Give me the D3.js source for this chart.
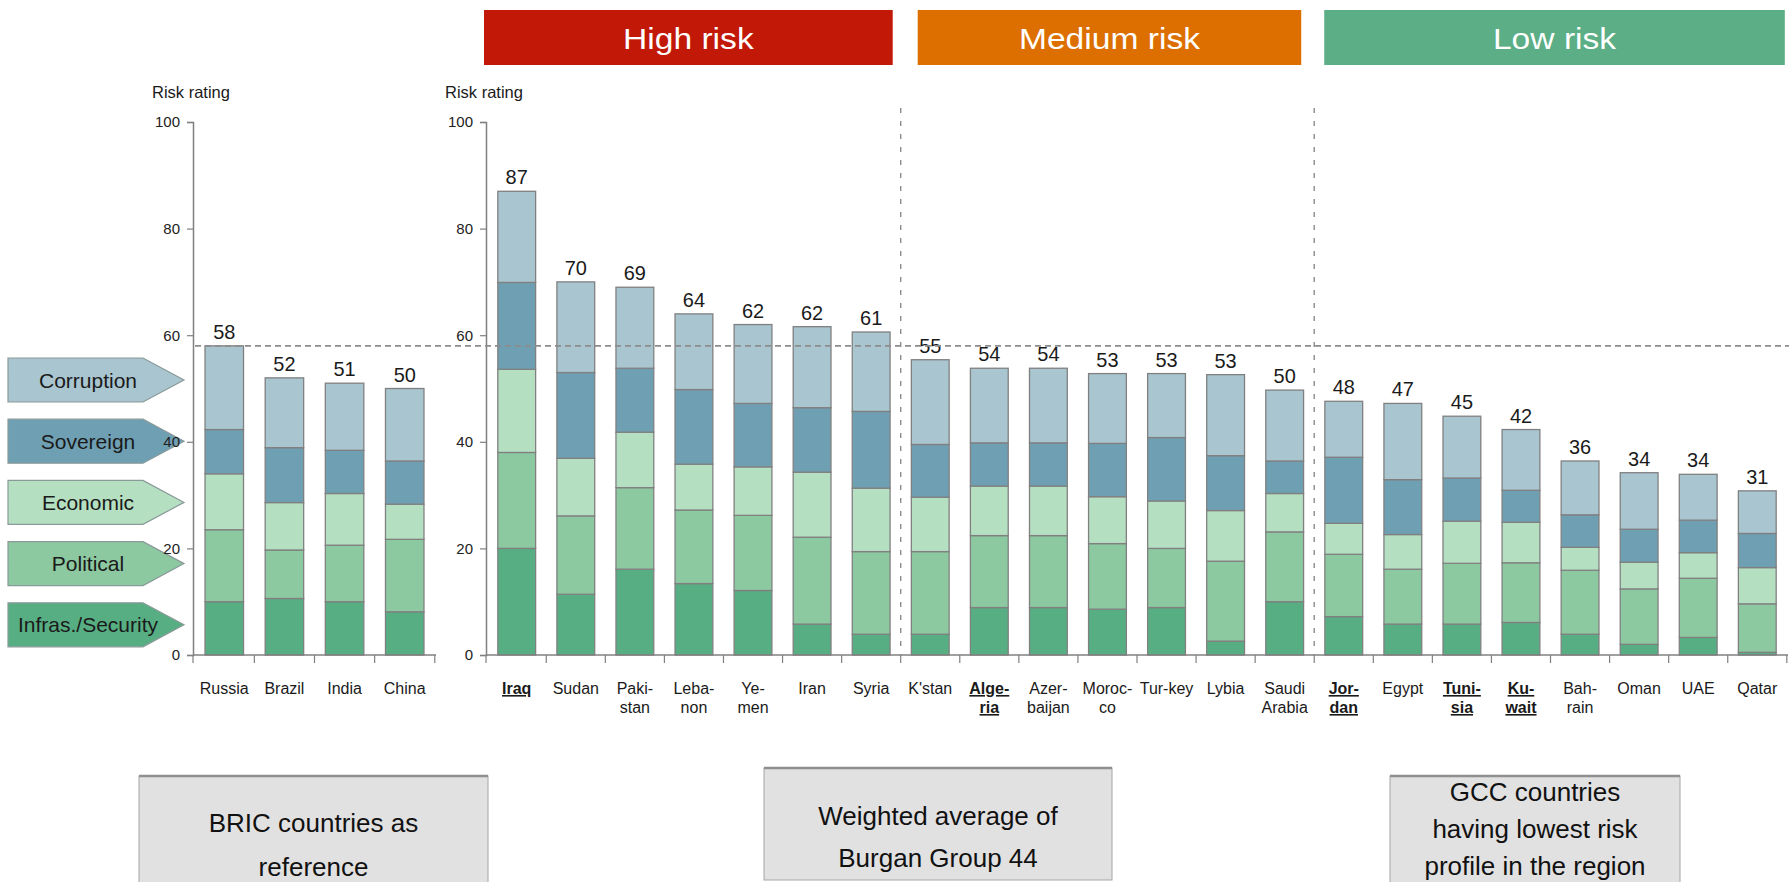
<!DOCTYPE html>
<html>
<head>
<meta charset="utf-8">
<script src="https://cdn.jsdelivr.net/npm/d3@7"></script>
<style>
  html, body { margin: 0; padding: 0; background: #fff; }
  svg { display: block; font-family: "Liberation Sans", Arial, sans-serif; }
</style>
</head>
<body>
<svg id="chart" width="1789" height="882"></svg>
<script>
// ---- Data -------------------------------------------------------------
// Risk components, stacked bottom to top
const components = ["Infras./Security", "Political", "Economic", "Sovereign", "Corruption"];

// BRIC reference countries
const bricCountries = ["Russia", "Brazil", "India", "China"];
const bricInfras     = [10.0, 10.6, 10.0, 8.1];
const bricPolitical  = [13.5, 9.1, 10.6, 13.6];
const bricEconomic   = [10.5, 8.9, 9.7, 6.6];
const bricSovereign  = [8.3, 10.3, 8.1, 8.1];
const bricCorruption = [15.7, 13.1, 12.6, 13.6];

// Burgan Group countries
const groupCountries = ["Iraq", "Sudan", "Pakistan", "Lebanon", "Yemen", "Iran", "Syria",
  "K'stan", "Algeria", "Azerbaijan", "Morocco", "Turkey", "Lybia", "Saudi Arabia",
  "Jordan", "Egypt", "Tunisia", "Kuwait", "Bahrain", "Oman", "UAE", "Qatar"];
const groupTickLabels = [["Iraq"], ["Sudan"], ["Paki-", "stan"], ["Leba-", "non"], ["Ye-", "men"], ["Iran"], ["Syria"],
  ["K'stan"], ["Alge-", "ria"], ["Azer-", "baijan"], ["Moroc-", "co"], ["Tur-key"], ["Lybia"], ["Saudi", "Arabia"],
  ["Jor-", "dan"], ["Egypt"], ["Tuni-", "sia"], ["Ku-", "wait"], ["Bah-", "rain"], ["Oman"], ["UAE"], ["Qatar"]];
const highlighted = ["Iraq", "Algeria", "Jordan", "Tunisia", "Kuwait"];

const groupInfras     = [20.0, 11.4, 16.1, 13.4, 12.1, 5.8, 3.9, 3.9, 8.9, 8.9, 8.6, 8.9, 2.6, 10.0, 7.2, 5.8, 5.8, 6.1, 3.9, 2.0, 3.3, 0.5];
const groupPolitical  = [18.0, 14.7, 15.3, 13.8, 14.1, 16.3, 15.5, 15.5, 13.5, 13.5, 12.3, 11.1, 15.0, 13.1, 11.7, 10.3, 11.4, 11.2, 12.0, 10.4, 11.1, 9.1];
const groupEconomic   = [15.6, 10.8, 10.4, 8.6, 9.1, 12.2, 11.9, 10.2, 9.3, 9.3, 8.8, 8.9, 9.5, 7.2, 5.8, 6.5, 7.9, 7.6, 4.3, 5.0, 4.8, 6.8];
const groupSovereign  = [16.3, 16.1, 12.0, 14.0, 11.9, 12.1, 14.4, 9.9, 8.1, 8.1, 10.0, 11.9, 10.3, 6.1, 12.4, 10.3, 8.1, 6.0, 6.1, 6.2, 6.1, 6.4];
const groupCorruption = [17.1, 17.0, 15.2, 14.2, 14.8, 15.2, 14.9, 15.9, 14.0, 14.0, 13.1, 12.0, 15.2, 13.3, 10.5, 14.3, 11.6, 11.4, 10.1, 10.6, 8.6, 8.0];

// Risk tiers: first country index of each tier
const tierNames = ["High risk", "Medium risk", "Low risk"];
const tierStart = [0, 7, 14];
const tierColors = ["#c21807", "#dc6f00", "#5bae85"];

const benchmark = 58;          // BRIC reference level
const yTicks = [0, 20, 40, 60, 80, 100];

const noteTexts = [
  ["BRIC countries as", "reference"],
  ["Weighted average of", "Burgan Group 44"],
  ["GCC countries", "having lowest risk", "profile in the region"]
];

// ---- Styling ------------------------------------------------------------
const compColors = {
  "Infras./Security": "#57ae83",
  "Political": "#8cc8a0",
  "Economic": "#b5dfc1",
  "Sovereign": "#6f9fb3",
  "Corruption": "#a8c5d0"
};
const strokeGray = "#808080";

const svg = d3.select("#chart");

// text placed at (x, y) with an optional horizontal stretch
function stretchedText(parent, x, y, str, size, sx, fill, anchor) {
  return parent.append("text")
    .attr("transform", `translate(${x},${y}) scale(${sx},1)`)
    .attr("text-anchor", anchor || "middle")
    .attr("font-size", size)
    .attr("fill", fill)
    .text(str);
}

function buildRows(names, series) {
  return names.map((n, i) => {
    const row = { name: n };
    components.forEach((c, k) => row[c] = series[k][i]);
    row.total = components.reduce((s, c) => s + row[c], 0);
    return row;
  });
}
const bricRows = buildRows(bricCountries, [bricInfras, bricPolitical, bricEconomic, bricSovereign, bricCorruption]);
const groupRows = buildRows(groupCountries, [groupInfras, groupPolitical, groupEconomic, groupSovereign, groupCorruption]);

const y = d3.scaleLinear().domain([0, 100]).range([655, 122]);
const stack = d3.stack().keys(components);

// ---- Legend arrows (drawn beneath the left axis) ---------------------------
const legendOrder = components.slice().reverse();
const legendG = svg.append("g");
legendOrder.forEach((c, i) => {
  const cy = 380 + i * 61.2, h = 44, x0 = 8, xb = 143, xt = 184;
  legendG.append("path")
    .attr("d", `M${x0},${cy - h / 2}H${xb}L${xt},${cy}L${xb},${cy + h / 2}H${x0}Z`)
    .attr("fill", compColors[c])
    .attr("stroke", "#8a9a9a")
    .attr("stroke-width", 1.2);
  legendG.append("text")
    .attr("x", 88).attr("y", cy + 7.5)
    .attr("text-anchor", "middle")
    .attr("font-size", 21)
    .attr("fill", "#1a1a1a")
    .text(c);
});

// ---- Panel drawing --------------------------------------------------------
function drawPanel(rows, x0, x1, tickLabels) {
  const x = d3.scaleBand().domain(rows.map(d => d.name))
    .range([x0, x1]).paddingInner(0.36).paddingOuter(0.2);
  const g = svg.append("g");
  const series = stack(rows);

  g.selectAll("g.layer").data(series).join("g")
    .attr("fill", s => compColors[s.key])
    .selectAll("rect").data(s => s).join("rect")
    .attr("x", d => x(d.data.name))
    .attr("width", x.bandwidth())
    .attr("y", d => y(d[1]))
    .attr("height", d => y(d[0]) - y(d[1]))
    .attr("stroke", strokeGray)
    .attr("stroke-width", 1.3);

  // total labels
  rows.forEach(d => {
    stretchedText(g, x(d.name) + x.bandwidth() / 2, y(d.total) - 7,
      Math.round(d.total), 21, 0.95, "#1a1a1a");
  });

  // y axis
  const yAxis = d3.axisLeft(y).tickValues(yTicks).tickSize(6).tickPadding(7);
  const ya = g.append("g").attr("transform", `translate(${x0},0)`).call(yAxis);
  ya.select(".domain").attr("stroke", strokeGray).attr("stroke-width", 1.5);
  ya.selectAll(".tick line").attr("stroke", strokeGray).attr("stroke-width", 1.2);
  ya.selectAll(".tick text").attr("font-size", 15).attr("fill", "#222")
    .attr("font-family", "Liberation Sans, Arial, sans-serif");

  g.append("text").attr("x", x0 - 41).attr("y", 98)
    .attr("font-size", 16.5).attr("fill", "#1a1a1a").text("Risk rating");

  // x axis with ticks at band boundaries
  const step = x.step(), gap = step - x.bandwidth();
  const bounds = [x0].concat(rows.map(d => x(d.name) + x.bandwidth() + gap / 2));
  g.append("line").attr("x1", x0).attr("x2", x1).attr("y1", y(0)).attr("y2", y(0))
    .attr("stroke", strokeGray).attr("stroke-width", 1.5);
  g.selectAll("line.xt").data(bounds).join("line")
    .attr("x1", d => d).attr("x2", d => d)
    .attr("y1", y(0)).attr("y2", y(0) + 8)
    .attr("stroke", strokeGray).attr("stroke-width", 1.2);

  // category labels
  rows.forEach((d, i) => {
    const lines = tickLabels[i];
    const hl = highlighted.includes(d.name);
    lines.forEach((ln, j) => {
      g.append("text")
        .attr("x", x(d.name) + x.bandwidth() / 2)
        .attr("y", 694 + j * 19)
        .attr("text-anchor", "middle")
        .attr("font-size", 16)
        .attr("font-weight", hl ? "bold" : "normal")
        .attr("text-decoration", hl ? "underline" : "none")
        .attr("fill", "#1a1a1a")
        .text(ln);
    });
  });
  return { x, bounds };
}

const left = drawPanel(bricRows, 193, 436, bricCountries.map(n => [n]));
const main = drawPanel(groupRows, 486, 1788, groupTickLabels);

// ---- Reference lines --------------------------------------------------------
svg.append("line")
  .attr("x1", 195).attr("x2", 1789)
  .attr("y1", y(benchmark)).attr("y2", y(benchmark))
  .attr("stroke", "#8c8c8c").attr("stroke-width", 1.6)
  .attr("stroke-dasharray", "6,4");

const sepX = tierStart.slice(1).map(i => main.bounds[i]);
svg.selectAll("line.sep").data(sepX).join("line")
  .attr("x1", d => d).attr("x2", d => d)
  .attr("y1", 108).attr("y2", y(0))
  .attr("stroke", "#8c8c8c").attr("stroke-width", 1.4)
  .attr("stroke-dasharray", "5,8");

// ---- Tier headers -------------------------------------------------------------
const tierEdges = [main.bounds[0], ...sepX, main.bounds[main.bounds.length - 1]];
const tierBoxes = [
  [tierEdges[0] - 2, tierEdges[1] - 8],
  [tierEdges[1] + 17, tierEdges[2] - 13],
  [tierEdges[2] + 10, tierEdges[3] - 2]
];
tierNames.forEach((t, i) => {
  const [a, b] = tierBoxes[i];
  svg.append("rect").attr("x", a).attr("y", 10).attr("width", b - a).attr("height", 55)
    .attr("fill", tierColors[i]);
  stretchedText(svg, (a + b) / 2, 49, t, 30, 1.12, "#fff");
});

// ---- Notes at the bottom ----------------------------------------------------------
const noteBoxes = [
  { x: 139, y: 776, w: 349, h: 110, base: 832, lead: 44 },
  { x: 764, y: 768, w: 348, h: 112, base: 825, lead: 42 },
  { x: 1390, y: 776, w: 290, h: 110, base: 801, lead: 37 }
];
noteBoxes.forEach((b, i) => {
  svg.append("rect").attr("x", b.x).attr("y", b.y).attr("width", b.w).attr("height", b.h)
    .attr("fill", "#e1e1e1").attr("stroke", "#a6a6a6").attr("stroke-width", 1);
  svg.append("line").attr("x1", b.x).attr("x2", b.x + b.w).attr("y1", b.y).attr("y2", b.y)
    .attr("stroke", "#8f8f8f").attr("stroke-width", 2.5);
  noteTexts[i].forEach((ln, j) => {
    svg.append("text").attr("x", b.x + b.w / 2).attr("y", b.base + j * b.lead)
      .attr("text-anchor", "middle").attr("font-size", 26).attr("fill", "#111")
      .text(ln);
  });
});
</script>
</body>
</html>
